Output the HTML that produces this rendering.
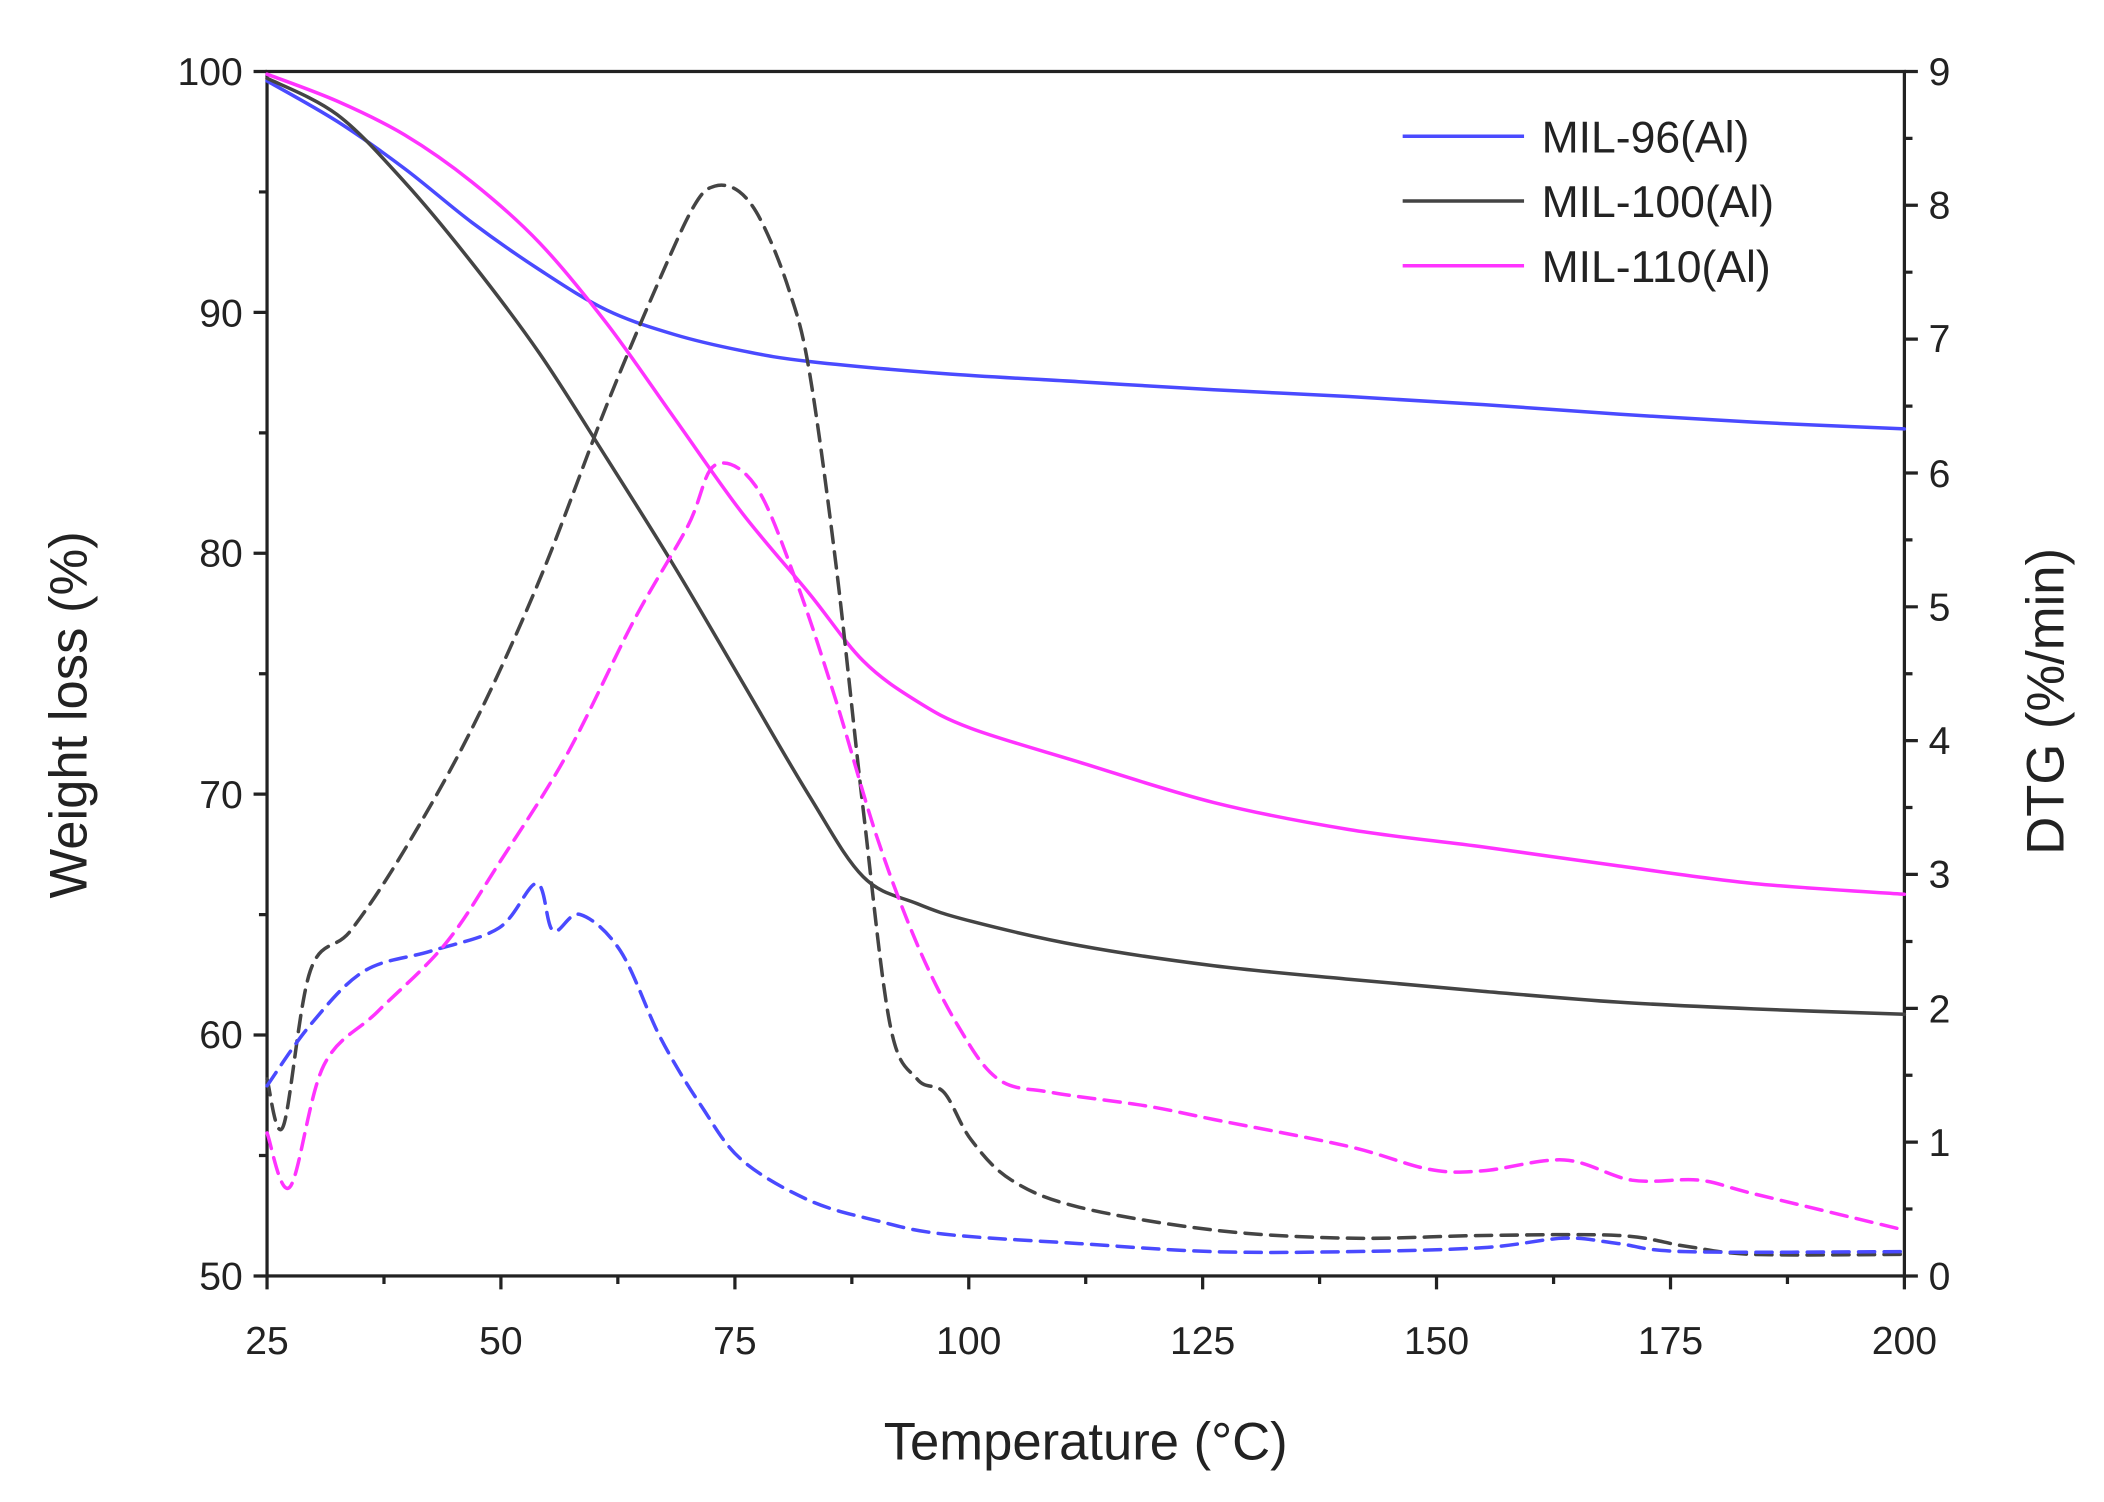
<!DOCTYPE html>
<html><head><meta charset="utf-8"><style>
html,body{margin:0;padding:0;background:#fff;}
svg{display:block;}
text{font-family:"Liberation Sans",Arial,sans-serif;fill:#222;}
</style></head><body>
<svg id="s" width="2104" height="1502" viewBox="0 0 1560 1113.6" preserveAspectRatio="none" xmlns="http://www.w3.org/2000/svg">
<rect width="1560" height="1114" fill="#fff"/>
<g stroke="#222" stroke-width="2.4" fill="none">
<rect x="198" y="53" width="1214" height="893"/>
<path d="M198 53h-10M198 231.6h-10M198 410.2h-10M198 588.8h-10M198 767.4h-10M198 946h-10
M198 142.3h-6M198 320.9h-6M198 499.5h-6M198 678.1h-6M198 856.7h-6"/>
<path d="M1412 946h10M1412 846.8h10M1412 747.6h10M1412 648.3h10M1412 549.1h10M1412 449.9h10M1412 350.7h10M1412 251.4h10M1412 152.2h10M1412 53h10
M1412 896.4h6M1412 797.2h6M1412 698h6M1412 598.7h6M1412 499.5h6M1412 400.3h6M1412 301.1h6M1412 201.8h6M1412 102.6h6"/>
<path d="M198 946v10M371.4 946v10M544.9 946v10M718.3 946v10M891.7 946v10M1065.1 946v10M1238.6 946v10M1412 946v10
M284.7 946v6M458.1 946v6M631.6 946v6M805 946v6M978.4 946v6M1151.9 946v6M1325.3 946v6"/>
</g>
<g font-size="29" text-anchor="end">
<text x="180" y="63">100</text><text x="180" y="242">90</text><text x="180" y="420">80</text>
<text x="180" y="599">70</text><text x="180" y="777">60</text><text x="180" y="956">50</text>
</g>
<g font-size="29" text-anchor="start">
<text x="1430" y="956">0</text><text x="1430" y="857">1</text><text x="1430" y="758">2</text>
<text x="1430" y="658">3</text><text x="1430" y="559">4</text><text x="1430" y="460">5</text>
<text x="1430" y="361">6</text><text x="1430" y="261">7</text><text x="1430" y="162">8</text><text x="1430" y="63">9</text>
</g>
<g font-size="29" text-anchor="middle">
<text x="198" y="1004">25</text><text x="371.4" y="1004">50</text><text x="544.9" y="1004">75</text>
<text x="718.3" y="1004">100</text><text x="891.7" y="1004">125</text><text x="1065.1" y="1004">150</text>
<text x="1238.6" y="1004">175</text><text x="1412" y="1004">200</text>
</g>
<text x="805" y="1082" font-size="39" text-anchor="middle">Temperature (°C)</text>
<text transform="translate(64 530) rotate(-90)" font-size="39" text-anchor="middle">Weight loss (%)</text>
<text transform="translate(1530 520) rotate(-90)" font-size="39" text-anchor="middle">DTG (%/min)</text>
<g stroke-width="2.6">
<line x1="1040" y1="101" x2="1130" y2="101" stroke="#4a4aff"/>
<line x1="1040" y1="149" x2="1130" y2="149" stroke="#444"/>
<line x1="1040" y1="197" x2="1130" y2="197" stroke="#ff33ff"/>
</g>
<g font-size="33"><text x="1143" y="113">MIL-96(Al)</text><text x="1143" y="161">MIL-100(Al)</text><text x="1143" y="209">MIL-110(Al)</text></g>
<g id="c" fill="none" stroke-width="2.6" stroke-linejoin="round" stroke-linecap="round"></g>
</svg>
<script>
var series=[
["#4a4aff",0,"198,60 250,90 300,125 350,165 400,200 450,230 500,248 550,260 600,268 700,277 800,283 900,289 1000,294 1100,300 1200,307 1300,313 1412,318"],
["#444",0,"198,58 250,85 300,135 350,195 400,262 450,340 500,420 550,505 600,590 640,650 680,670 720,683 800,701 900,716 1000,726 1100,735 1200,743 1300,748 1412,752"],
["#ff33ff",0,"198,55 250,75 300,100 350,135 400,180 450,240 500,310 550,380 600,440 640,490 680,520 720,540 800,565 900,595 1000,615 1100,628 1200,642 1300,655 1412,663"],
["#444",1,"198,800 210,835 230,720 260,690 300,630 350,540 400,430 450,300 490,205 515,152 530,138 548,142 565,165 585,215 600,275 620,420 640,600 660,760 680,800 700,810 720,845 750,875 800,895 900,912 1000,918 1100,916 1200,916 1250,924 1300,930 1412,930"],
["#4a4aff",1,"198,805 230,760 270,720 320,705 370,688 398,655 410,690 430,678 460,705 490,770 520,820 550,860 600,890 650,905 700,915 800,922 900,928 1000,928 1100,925 1160,918 1200,922 1250,928 1412,928"],
["#ff33ff",1,"198,840 215,880 240,790 280,750 330,700 370,640 420,560 470,460 510,390 530,345 560,360 590,430 620,520 650,620 680,700 710,760 740,800 780,810 850,820 900,830 1000,850 1060,867 1100,868 1160,860 1210,875 1260,875 1300,885 1412,912"]];
var g=document.getElementById("c");
series.forEach(function(s){
 var p=s[2].split(" ").map(function(q){return q.split(",").map(Number);});
 var d="M"+p[0][0]+" "+p[0][1];
 for(var i=0;i<p.length-1;i++){
  var p0=p[Math.max(i-1,0)],p1=p[i],p2=p[i+1],p3=p[Math.min(i+2,p.length-1)];
  var c1x=p1[0]+(p2[0]-p0[0])/6,c1y=p1[1]+(p2[1]-p0[1])/6;
  var c2x=p2[0]-(p3[0]-p1[0])/6,c2y=p2[1]-(p3[1]-p1[1])/6;
  d+=" C"+c1x+" "+c1y+" "+c2x+" "+c2y+" "+p2[0]+" "+p2[1];
 }
 var e=document.createElementNS("http://www.w3.org/2000/svg","path");
 e.setAttribute("d",d);e.setAttribute("stroke",s[0]);
 if(s[1])e.setAttribute("stroke-dasharray","12,7");
 g.appendChild(e);
});
</script>
</body></html>
